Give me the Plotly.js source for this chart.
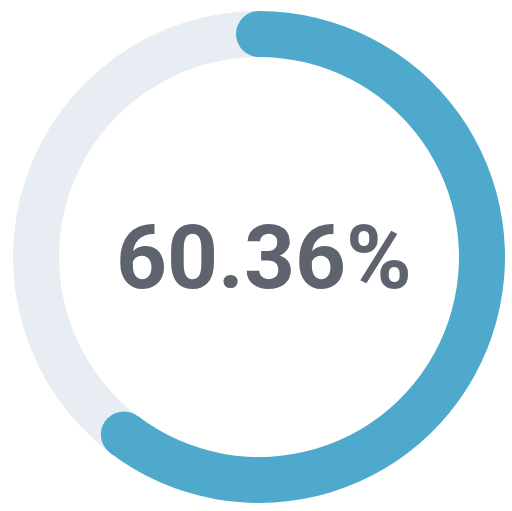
<!DOCTYPE html>
<html>
<head>
<meta charset="utf-8">
<script src="https://cdn.plot.ly/plotly-3.0.1.min.js"></script>
<style>html,body{margin:0;padding:0;background:#fff;}#chart{width:512px;height:511px;}</style>
</head>
<body>
<div id="chart"></div>
<script>
const labels = ["Completed", "Remaining"];
const values = [60.36, 39.64];
const colors = ["#4ea9cd", "#e8ecf3"];
const centerLabel = "60.36%";

const W = 512, H = 511;
const cx = 259, cy = 257, R = 246, r = 200;

const pct = values[0] / (values[0] + values[1]);
const rm = (R + r) / 2, capR = (R - r) / 2;
function capShape(angleDeg) {
  const a = angleDeg * Math.PI / 180;
  const px = cx + rm * Math.sin(a), py = cy - rm * Math.cos(a);
  return {
    type: "circle", xref: "paper", yref: "paper",
    xsizemode: "pixel", ysizemode: "pixel",
    xanchor: px / W, yanchor: 1 - py / H,
    x0: -capR, x1: capR, y0: -capR, y1: capR,
    fillcolor: colors[0], line: {width: 0}, layer: "above"
  };
}

const trace = {
  type: "pie",
  labels: labels,
  values: values,
  sort: false,
  direction: "clockwise",
  rotation: 0,
  hole: r / R,
  textinfo: "none",
  hoverinfo: "none",
  marker: {colors: colors, line: {width: 0}},
  domain: {x: [(cx - R) / W, (cx + R) / W], y: [1 - (cy + R) / H, 1 - (cy - R) / H]},
  showlegend: false
};

const layout = {
  width: W, height: H,
  margin: {l: 0, r: 0, t: 0, b: 0},
  paper_bgcolor: "#ffffff",
  showlegend: false,
  shapes: [capShape(0), capShape(360 * pct)],
  annotations: [{
    text: "<b>" + centerLabel + "</b>",
    x: 264 / W, y: 1 - 257 / H, xref: "paper", yref: "paper",
    showarrow: false, xanchor: "center", yanchor: "middle",
    font: {family: "Roboto", size: 89, color: "#5e636e"}
  }]
};

Plotly.newPlot("chart", [trace], layout, {displayModeBar: false, staticPlot: true});
</script>
</body>
</html>
